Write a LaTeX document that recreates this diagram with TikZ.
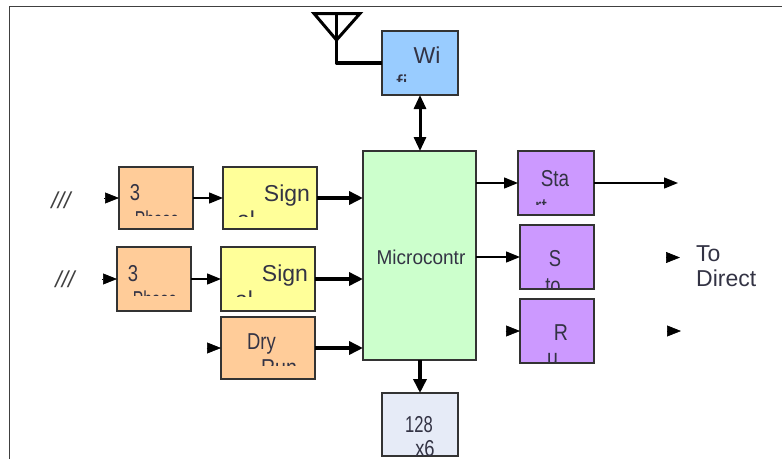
\documentclass[tikz,border=0pt]{standalone}
\usepackage{fontspec}
\setmainfont{Liberation Sans}
\usetikzlibrary{arrows.meta}
\tikzset{
  blockbox/.style={draw=black!80,line width=1.5pt,inner sep=0pt,outer sep=0pt},
  orangebox/.style={blockbox,fill=orangefill},
  yellowbox/.style={blockbox,fill=yellowfill},
  purplebox/.style={blockbox,fill=purplefill},
  thinarrow/.style={draw=black,line width=1.4pt,-{Triangle[length=14pt,width=11pt]}},
  thickarrow/.style={draw=black,line width=3.6pt,-{Triangle[length=14pt,width=13pt]}},
  stubarrow/.style={draw=black,line width=.6pt,-{Triangle[length=14pt,width=11pt]}},
  label/.style={inner sep=0pt,text=labelink,font=\fontsize{23}{23}\selectfont,anchor=base},
  slashes/.style={inner sep=0pt,text=black!75,font=\fontsize{23}{23}\selectfont\itshape}
}
\definecolor{orangefill}{HTML}{FFCC99}
\definecolor{yellowfill}{HTML}{FFFF99}
\definecolor{greenfill}{HTML}{CCFFCC}
\definecolor{bluefill}{HTML}{99CCFF}
\definecolor{purplefill}{HTML}{CC99FF}
\definecolor{memfill}{HTML}{E6EBF7}
\definecolor{labelink}{HTML}{333344}
% name, x, baseline y, x scale, bottom of visible band, text
\newcommand{\cliplabel}[6]{%
  \begin{scope}
    \clip (#2-60,#3+30) rectangle (#2+60,#5);
    \node[label,xscale=#4] (#1) at (#2,#3) {#6};
  \end{scope}}
\begin{document}
\begin{tikzpicture}[x=1pt,y=1pt]
\useasboundingbox (0,0) rectangle (782,-459);
\clip (0,0) rectangle (782,-459);
% frame
\coordinate (frameA) at (9.5,-459);
\coordinate (frameB) at (9.5,-6.5);
\coordinate (frameC) at (782,-6.5);
\draw[black!75,line width=1.6pt] (frameA) -- (frameB) -- (frameC);
% blocks
\node[orangebox,minimum width=74pt,minimum height=62pt] (ph1) at (156,-198) {};
\node[yellowbox,minimum width=94pt,minimum height=62pt] (sig1) at (270,-198) {};
\node[orangebox,minimum width=74pt,minimum height=64pt] (ph2) at (154,-279) {};
\node[yellowbox,minimum width=94pt,minimum height=64pt] (sig2) at (268,-279) {};
\node[orangebox,minimum width=94pt,minimum height=62pt] (dry) at (268,-348) {};
\node[blockbox,fill=greenfill,minimum width=113pt,minimum height=209pt] (mcu) at (419.5,-255.5) {};
\node[blockbox,fill=bluefill,minimum width=76pt,minimum height=64pt] (wifi) at (420,-63) {};
\node[purplebox,minimum width=76pt,minimum height=64pt] (sta) at (556,-183) {};
\node[purplebox,minimum width=74pt,minimum height=64pt] (stp) at (557,-257) {};
\node[purplebox,minimum width=74pt,minimum height=64pt] (run) at (557,-331) {};
\node[blockbox,fill=memfill,minimum width=76pt,minimum height=63pt] (mem) at (420,-424.5) {};
% labels
\cliplabel{t1}{135}{-200}{.8}{-229}{3}
\cliplabel{t2}{157}{-227.5}{.68}{-215.5}{Phase}
\cliplabel{t3}{287}{-201}{1}{-229}{Sign}
\cliplabel{t4}{246}{-227.5}{1}{-216}{al}
\cliplabel{t5}{133}{-281}{.8}{-311}{3}
\cliplabel{t6}{155}{-307.5}{.68}{-295.5}{Phase}
\cliplabel{t7}{285}{-281}{1}{-311}{Sign}
\cliplabel{t8}{244}{-307.5}{1}{-296}{al}
\cliplabel{t9}{261.5}{-349}{.8}{-379}{Dry}
\cliplabel{t10}{279}{-375}{.85}{-365.5}{Run}
\cliplabel{t11}{427}{-63}{1}{-95}{Wi}
\cliplabel{t12}{402}{-91}{1}{-81}{fi}
\cliplabel{t13}{555}{-186}{.82}{-215}{Sta}
\cliplabel{t14}{541}{-214}{.82}{-204}{rt}
\cliplabel{t15}{555}{-266}{.8}{-288}{S}
\cliplabel{t16}{553}{-293}{.8}{-288}{to}
\cliplabel{t17}{561}{-340}{.85}{-362}{R}
\cliplabel{t18}{552.5}{-365}{.85}{-362}{u}
\cliplabel{t19}{419}{-432}{.72}{-455}{128}
\cliplabel{t20}{425}{-456}{.8}{-455}{x6}
\begin{scope}
  \clip (mcu.north west) rectangle (mcu.south east);
  \node[label,font=\fontsize{20}{20}\selectfont,xscale=.95] (t21) at (421,-264) {Microcontr};
\end{scope}
\node[label,anchor=base west] (t22) at (696,-261) {To};
\node[label,anchor=base west] (t23) at (696,-286) {Direct};
\node[slashes] (s1) at (61,-200) {///};
\node[slashes] (s2) at (65,-279) {///};
% connectors
\draw[thinarrow] (ph1.east) -- (sig1.west);
\draw[thinarrow] (ph2.east) -- (sig2.west);
\draw[thickarrow] (sig1.east) -- (sig1.east -| mcu.west);
\draw[thickarrow] (sig2.east) -- (sig2.east -| mcu.west);
\draw[thickarrow] (dry.east) -- (dry.east -| mcu.west);
\draw[draw=black,line width=3pt,{Triangle[length=14pt,width=12pt]}-{Triangle[length=14pt,width=12pt]}] (wifi.south) -- (wifi.south |- mcu.north);
\draw[thickarrow] (mem.north |- mcu.south) -- (mem.north);
\draw[thinarrow] (sta.west -| mcu.east) -- (sta.west);
\draw[thinarrow] (stp.west -| mcu.east) -- (stp.west);
\coordinate (out1) at (678,-183);
\draw[thinarrow] (sta.east) -- (out1);
% stub arrows
\coordinate (in1) at (104,-198);
\coordinate (in2) at (102,-279);
\coordinate (in3) at (206.5,-348);
\draw[stubarrow] (in1) -- (ph1.west);
\draw[stubarrow] (in2) -- (ph2.west);
\draw[stubarrow] (in3) -- (dry.west);
\coordinate (in4) at (505.5,-331);
\draw[stubarrow] (in4) -- (run.west);
\coordinate (o2a) at (666,-257.5);
\coordinate (o2b) at (680,-257.5);
\coordinate (o3a) at (667,-331);
\coordinate (o3b) at (681,-331);
\draw[stubarrow] (o2a) -- (o2b);
\draw[stubarrow] (o3a) -- (o3b);
% antenna
\coordinate (antL) at (314,-13.5);
\coordinate (antR) at (360,-13.5);
\coordinate (antT) at (336.5,-13.5);
\coordinate (antA) at (336.5,-40);
\coordinate (antB) at (336.5,-63);
\draw[black,line width=3pt,line join=miter] (antL) -- (antR) -- (antA) -- cycle;
\draw[black,line width=3.4pt,line join=round] (antT) -- (antB) -- (wifi.west);
\end{tikzpicture}
\end{document}
